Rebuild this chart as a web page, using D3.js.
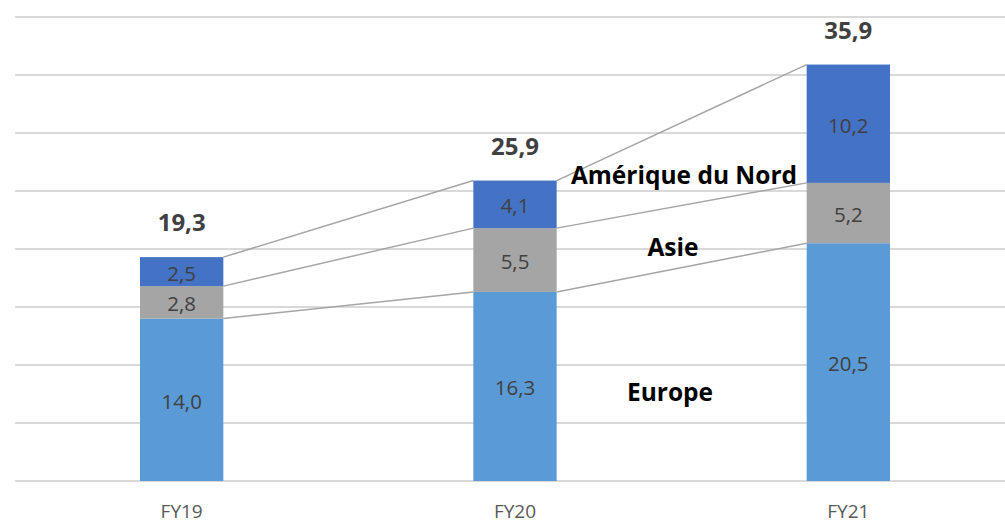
<!DOCTYPE html>
<html><head><meta charset="utf-8">
<script src="https://cdn.jsdelivr.net/npm/d3@7"></script>
<style>body{margin:0;background:#fff}svg{display:block}</style>
</head><body>
<svg id="c" width="1005" height="524"></svg>
<script>
const categories = ["FY19", "FY20", "FY21"];
const europe = [14.0, 16.3, 20.5];
const asie = [2.8, 5.5, 5.2];
const ameriqueNord = [2.5, 4.1, 10.2];
const totals = [19.3, 25.9, 35.9];
const yTicks = [0, 5, 10, 15, 20, 25, 30, 35, 40];
const seriesNames = ["Europe", "Asie", "Amérique du Nord"];

const svg = d3.select("#c");
const font = "'Open Sans', 'Noto Sans', sans-serif";
const x = d3.scaleBand().domain(categories).range([15, 1015]).paddingInner(0.75).paddingOuter(0.375);
const y = d3.scaleLinear().domain([0, 40]).range([481, 17]);
const fmt = v => v.toFixed(1).replace(".", ",");

svg.append("g").selectAll("line").data(yTicks).join("line")
  .attr("x1", 15).attr("x2", 1005)
  .attr("y1", d => y(d)).attr("y2", d => y(d))
  .attr("stroke", "#d9d9d9").attr("stroke-width", 2);

const data = categories.map((c, i) => ({cat: c, Europe: europe[i], Asie: asie[i], "Amérique du Nord": ameriqueNord[i]}));
const stack = d3.stack().keys(seriesNames)(data);
const colors = {"Europe": "#5b9bd5", "Asie": "#a5a5a5", "Amérique du Nord": "#4472c4"};

// connector lines
stack.forEach(s => {
  for (let i = 0; i < categories.length - 1; i++) {
    svg.append("line")
      .attr("x1", x(categories[i]) + x.bandwidth()).attr("y1", y(s[i][1]))
      .attr("x2", x(categories[i + 1])).attr("y2", y(s[i + 1][1]))
      .attr("stroke", "#a5a5a5").attr("stroke-width", 1.5);
  }
});

stack.forEach(s => {
  svg.append("g").selectAll("rect").data(s).join("rect")
    .attr("x", d => x(d.data.cat)).attr("width", x.bandwidth())
    .attr("y", d => y(d[1])).attr("height", d => y(d[0]) - y(d[1]))
    .attr("fill", colors[s.key]);
  svg.append("g").selectAll("text").data(s).join("text")
    .attr("x", d => x(d.data.cat) + x.bandwidth() / 2)
    .attr("y", d => (y(d[0]) + y(d[1])) / 2)
    .attr("dy", "0.44em").attr("text-anchor", "middle")
    .attr("font-family", font).attr("font-size", 20.5).attr("fill", "#404040")
    .text(d => fmt(d[1] - d[0]));
});

svg.append("g").selectAll("text").data(categories).join("text")
  .attr("x", d => x(d) + x.bandwidth() / 2)
  .attr("y", (d, i) => y(totals[i]) - 26)
  .attr("text-anchor", "middle")
  .attr("font-family", font).attr("font-size", 24).attr("font-weight", "bold").attr("fill", "#404040")
  .text((d, i) => fmt(totals[i]));

svg.append("g").selectAll("text").data(categories).join("text")
  .attr("x", d => x(d) + x.bandwidth() / 2).attr("y", 518)
  .attr("text-anchor", "middle")
  .attr("font-family", font).attr("font-size", 19).attr("fill", "#595959")
  .text(d => d);

const seriesLabelPos = [{n: "Europe", x: 670, y: 401}, {n: "Asie", x: 673, y: 256}, {n: "Amérique du Nord", x: 684, y: 184}];
svg.append("g").selectAll("text").data(seriesLabelPos).join("text")
  .attr("x", d => d.x).attr("y", d => d.y)
  .attr("text-anchor", "middle")
  .attr("font-family", font).attr("font-size", 24.5).attr("font-weight", "bold").attr("fill", "#000")
  .text(d => d.n);
</script>
</body></html>
